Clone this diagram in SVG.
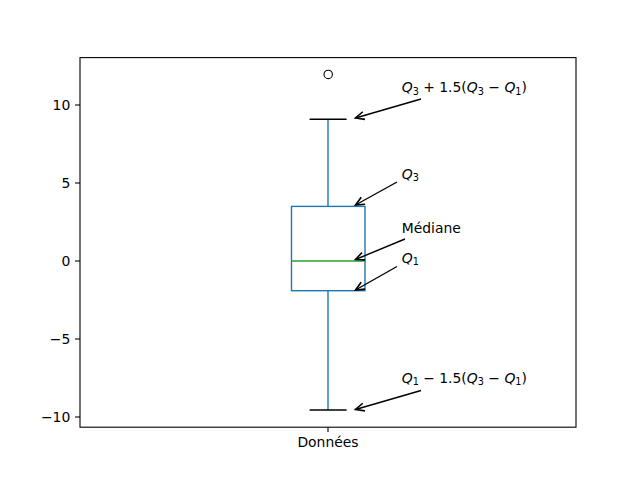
<svg xmlns="http://www.w3.org/2000/svg" width="640" height="480" viewBox="0 0 640 480">
<style>
text{font-family:"DejaVu Sans","Liberation Sans",sans-serif;font-size:13.9px;fill:#000}
.tl{text-anchor:end}
.i{font-style:italic}
.spine{fill:none;stroke:#000;stroke-width:1.1}
.tick{stroke:#000;stroke-width:1.1}
.blue{fill:none;stroke:#1f77b4;stroke-width:1.4}
.arr{fill:none;stroke:#000;stroke-width:1.4;marker-end:url(#ah)}
</style>
<defs>
<marker id="ah" markerUnits="userSpaceOnUse" markerWidth="14" markerHeight="14" viewBox="-10 -5 12 10" refX="0" refY="0" orient="auto">
<path d="M-7.5,-3.4 L0,0 L-7.5,3.4" fill="none" stroke="#000" stroke-width="1.4"/>
</marker>
</defs>
<rect width="640" height="480" fill="#fff"/>
<g id="axes">
<rect class="spine" x="80" y="57.6" width="496" height="369.6"/>
<g id="yticks">
<line class="tick" x1="75.1" y1="105" x2="80" y2="105"/>
<line class="tick" x1="75.1" y1="183" x2="80" y2="183"/>
<line class="tick" x1="75.1" y1="261" x2="80" y2="261"/>
<line class="tick" x1="75.1" y1="339" x2="80" y2="339"/>
<line class="tick" x1="75.1" y1="417" x2="80" y2="417"/>
<text class="tl" x="70.3" y="110">10</text>
<text class="tl" x="70.3" y="188">5</text>
<text class="tl" x="70.3" y="266">0</text>
<text class="tl" x="70.3" y="344">−5</text>
<text class="tl" x="70.3" y="422">−10</text>
</g>
<g id="xticks">
<line class="tick" x1="328" y1="427.2" x2="328" y2="432.1"/>
<text x="328" y="447" text-anchor="middle">Données</text>
</g>
</g>
<g id="boxplot">
<line class="blue" x1="328" y1="206.4" x2="328" y2="119.3"/>
<line class="blue" x1="328" y1="290.7" x2="328" y2="410"/>
<rect class="blue" x="291.5" y="206.4" width="73.5" height="84.3"/>
<line x1="291.5" y1="261" x2="365" y2="261" stroke="#2ca02c" stroke-width="1.4"/>
<line x1="309.6" y1="119.3" x2="346.6" y2="119.3" stroke="#000" stroke-width="1.4"/>
<line x1="309.6" y1="410" x2="346.6" y2="410" stroke="#000" stroke-width="1.4"/>
<circle cx="328.2" cy="74.4" r="4.2" fill="none" stroke="#000" stroke-width="1.1"/>
</g>
<g id="connectors">
<line class="arr" x1="421" y1="99" x2="355.5" y2="118"/>
<line class="arr" x1="397" y1="182" x2="355.5" y2="205"/>
<line class="arr" x1="405" y1="239" x2="355.5" y2="259.5"/>
<line class="arr" x1="397" y1="266.5" x2="355.5" y2="290"/>
<line class="arr" x1="421" y1="390.5" x2="355.5" y2="409.5"/>
</g>
<g id="labels">
<text x="401.7" y="92.3"><tspan class="i">Q</tspan><tspan font-size="9.7" dy="2.4">3</tspan><tspan dy="-2.4"> + 1.5(</tspan><tspan class="i">Q</tspan><tspan font-size="9.7" dy="2.4">3</tspan><tspan dy="-2.4"> − </tspan><tspan class="i">Q</tspan><tspan font-size="9.7" dy="2.4">1</tspan><tspan dy="-2.4">)</tspan></text>
<text x="401.7" y="179"><tspan class="i">Q</tspan><tspan font-size="9.7" dy="2.4">3</tspan></text>
<text x="401.7" y="233">Médiane</text>
<text x="401.7" y="263"><tspan class="i">Q</tspan><tspan font-size="9.7" dy="2.4">1</tspan></text>
<text x="401.7" y="382.7"><tspan class="i">Q</tspan><tspan font-size="9.7" dy="2.4">1</tspan><tspan dy="-2.4"> − 1.5(</tspan><tspan class="i">Q</tspan><tspan font-size="9.7" dy="2.4">3</tspan><tspan dy="-2.4"> − </tspan><tspan class="i">Q</tspan><tspan font-size="9.7" dy="2.4">1</tspan><tspan dy="-2.4">)</tspan></text>
</g>
</svg>
